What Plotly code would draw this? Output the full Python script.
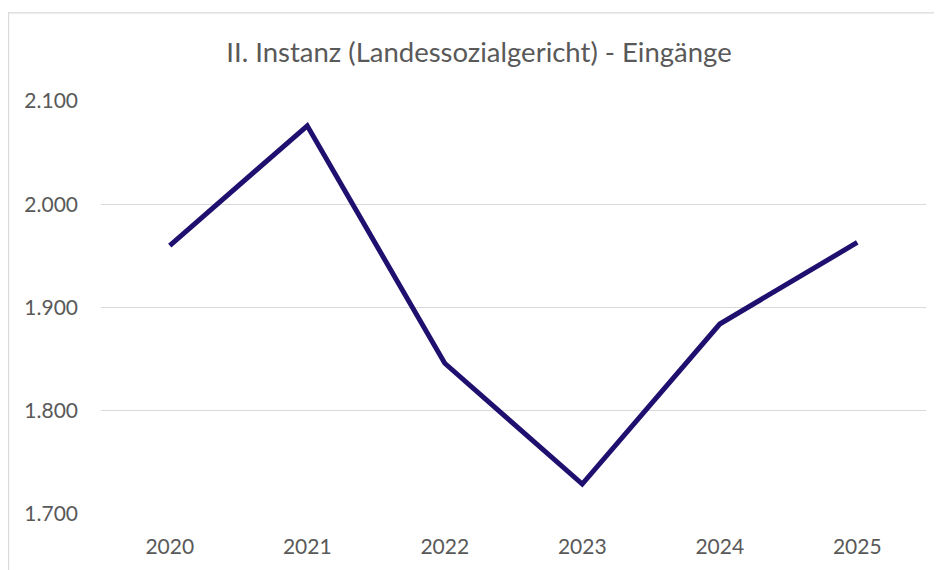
import plotly.graph_objects as go

years = ["2020", "2021", "2022", "2023", "2024", "2025"]
eingaenge = [1960, 2076, 1846, 1729, 1884, 1963]
y_ticks = [1700, 1800, 1900, 2000, 2100]
y_tick_labels = ["1.700", "1.800", "1.900", "2.000", "2.100"]

W, H = 934, 562
L, R, T, B = 93, 16, 93, 52
pw, ph = W - L - R, H - T - B

fig = go.Figure()
fig.add_trace(go.Scatter(
    x=years, y=eingaenge, mode="lines",
    line=dict(color="#1f1070", width=5),
    hoverinfo="x+y",
))

fig.update_layout(
    width=W, height=H,
    margin=dict(l=L, r=R, t=T, b=B),
    paper_bgcolor="white", plot_bgcolor="white",
    showlegend=False,
    font=dict(family="Lato, 'Open Sans', sans-serif", color="#595959", size=21),
    title=dict(text="II. Instanz (Landessozialgericht) - Eingänge",
               x=471 / W, xanchor="center", xref="container",
               y=1 - 44/H, yanchor="middle",
               font=dict(size=27.5, color="#595959")),
    xaxis=dict(type="category", range=[-0.5, 5.5], showgrid=False, showline=False,
               zeroline=False, ticks="", ticklabelstandoff=18,
               tickfont=dict(size=21, color="#595959")),
    yaxis=dict(range=[1700, 2100], tickvals=y_ticks, ticktext=y_tick_labels,
               showgrid=True, gridcolor="#d9d9d9", gridwidth=1.3,
               zeroline=False, showline=False, ticks="", ticklabelstandoff=22,
               tickfont=dict(size=21, color="#595959")),
    shapes=[dict(type="rect", xref="paper", yref="paper",
                 x0=(0.5 - L)/pw, x1=1.2, y0=-0.4, y1=(ph + T - 4)/ph,
                 line=dict(color="#d9d9d9", width=1.3), layer="below")],
)

fig.write_html("out.html")
